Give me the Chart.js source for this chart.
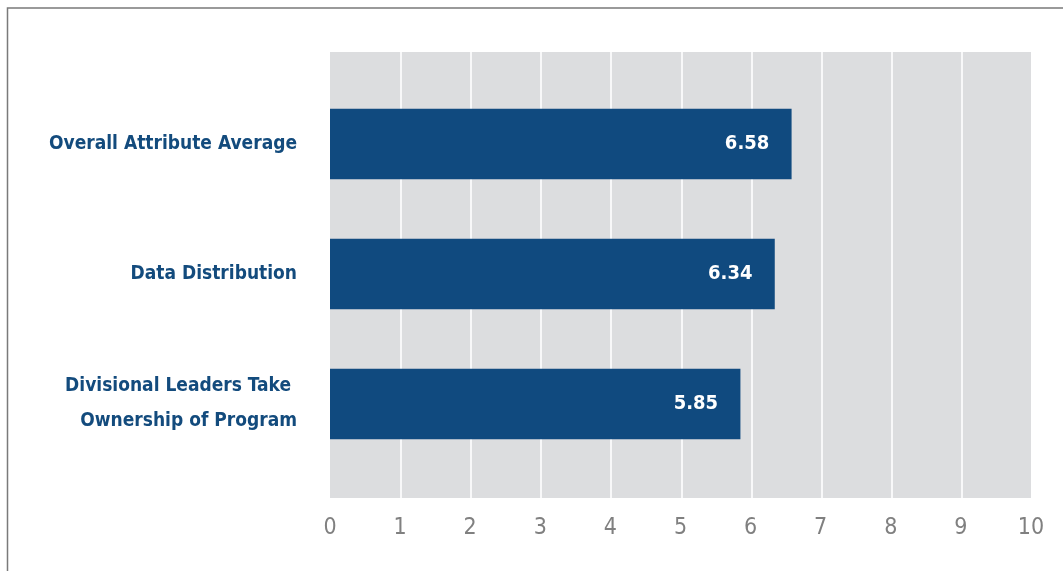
<!DOCTYPE html>
<html><head><meta charset="utf-8">
<script src="https://cdn.jsdelivr.net/npm/chart.js@4"></script>
<style>html,body{margin:0;padding:0;background:#fff;}#wrap{position:relative;width:1063px;height:571px;}</style>
</head><body><div id="wrap"><canvas id="c" width="1063" height="571"></canvas></div>
<script>
const categories = [
  'Overall Attribute Average',
  'Data Distribution',
  ['Divisional Leaders Take ', 'Ownership of Program']
];
const scores = [6.58, 6.34, 5.85];
const xTicks = [0, 1, 2, 3, 4, 5, 6, 7, 8, 9, 10];

const FONT = "'DejaVu Sans Condensed', 'DejaVu Sans', sans-serif";
const BAR = '#104a7f';
const LABEL = '#134b7d';

const bgPlugin = {
  id: 'bg',
  beforeDraw(chart) {
    const {ctx, chartArea: a, scales: {x}} = chart;
    ctx.save();
    ctx.fillStyle = '#fff';
    ctx.fillRect(0, 0, chart.width, chart.height);
    // frame
    ctx.strokeStyle = '#7a7a7a';
    ctx.lineWidth = 1.5;
    ctx.beginPath();
    ctx.moveTo(7.5, chart.height + 2);
    ctx.lineTo(7.5, 8);
    ctx.lineTo(chart.width + 2, 8);
    ctx.stroke();
    // plot background extended beyond category area
    const top = a.top - 27, bottom = a.bottom + 29;
    ctx.fillStyle = '#dcdddf';
    ctx.fillRect(a.left, top, a.right - a.left, bottom - top);
    ctx.strokeStyle = '#ffffff';
    ctx.lineWidth = 1.6;
    xTicks.slice(1, -1).forEach(v => {
      const px = Math.round(x.getPixelForValue(v)) + 1;
      ctx.beginPath();
      ctx.moveTo(px, top);
      ctx.lineTo(px, bottom);
      ctx.stroke();
    });
    ctx.restore();
  }
};

const valuePlugin = {
  id: 'vals',
  afterDatasetsDraw(chart) {
    const {ctx} = chart;
    const meta = chart.getDatasetMeta(0);
    ctx.save();
    ctx.fillStyle = '#ffffff';
    ctx.font = "bold 20px " + FONT;
    ctx.textAlign = 'right';
    ctx.textBaseline = 'middle';
    meta.data.forEach((bar, i) => {
      ctx.fillText(scores[i].toFixed(2), bar.x - 22, bar.y);
    });
    ctx.restore();
  }
};

new Chart(document.getElementById('c'), {
  type: 'bar',
  data: {
    labels: categories,
    datasets: [{
      data: scores,
      backgroundColor: BAR,
      borderWidth: 0,
      barThickness: 70
    }]
  },
  options: {
    indexAxis: 'y',
    responsive: false,
    animation: false,
    devicePixelRatio: 1,
    layout: { padding: { top: 79, right: 32, left: 0, bottom: 0 } },
    plugins: { legend: { display: false }, tooltip: { enabled: false } },
    scales: {
      x: {
        min: 0, max: 10,
        afterFit(s) { s.height = 102; s.paddingLeft = 0; s.paddingRight = 0; },
        afterBuildTicks(s) { s.ticks = xTicks.map(v => ({value: v})); },
        grid: { display: false, drawTicks: false },
        border: { display: false },
        ticks: { color: '#808080', font: { family: FONT, size: 23 }, padding: 45, maxRotation: 0 }
      },
      y: {
        afterFit(s) { s.width = 330; s.paddingTop = 0; s.paddingBottom = 0; },
        grid: { display: false, drawTicks: false },
        border: { display: false },
        ticks: { color: LABEL, font: { family: FONT, size: 19, weight: 'bold', lineHeight: 1.84 }, padding: 33 }
      }
    }
  },
  plugins: [bgPlugin, valuePlugin]
});
</script>
</body></html>
